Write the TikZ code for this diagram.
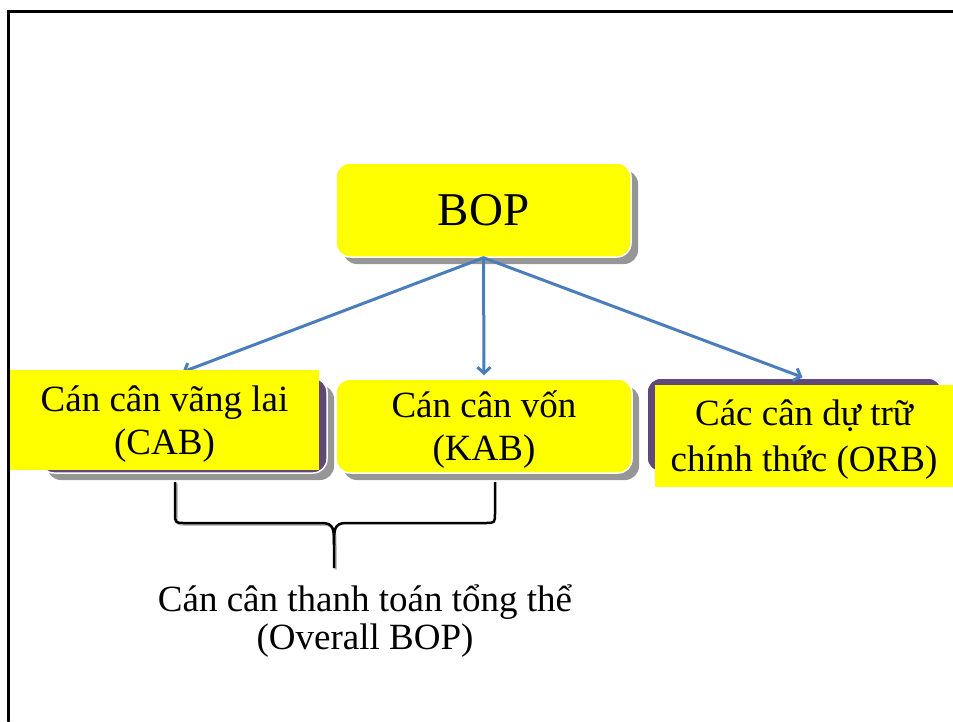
\documentclass[tikz,border=0pt]{standalone}
\usepackage{fontspec}
\setmainfont{Liberation Serif}
\usetikzlibrary{arrows.meta,shadows}
\definecolor{boxyellow}{HTML}{FFFF00}
\definecolor{boxpurple}{HTML}{5F497A}
\definecolor{shadowgray}{HTML}{969696}
\definecolor{linkblue}{HTML}{4A7EBB}
\tikzset{
  every picture/.style={line join=round, line cap=round, >=Stealth},
  card/.style={rounded corners=14pt, draw=white, line width=1.5pt,
    drop shadow={shadow xshift=7pt, shadow yshift=-7pt, fill=shadowgray, opacity=1}},
  flatcard/.style={rounded corners=14pt, draw=white, line width=1.5pt},
  flatbox/.style={fill=boxyellow, inner sep=0pt},
  boxtext/.style={font=\fontsize{37}{43}\selectfont, align=center, text depth=0pt},
  link/.style={linkblue, line width=3pt, -{Straight Barb[length=6pt,width=13pt]}},
  bracket/.style={line width=2.5pt, line cap=butt},
}

\begin{document}
\begin{tikzpicture}[x=1pt,y=-1pt]
\useasboundingbox (0,0) rectangle (953,721);
% frame
\draw[line width=3pt, line join=miter] (8.7,721) -- (8.7,11.7) -- (953,11.7);
% boxes
\node[card, fill=boxyellow, minimum width=295pt, minimum height=94pt, font=\fontsize{47}{54}\selectfont] (bop) at (483.5,210) {BOP};
\node[card, fill=boxpurple, minimum width=287pt, minimum height=95pt] (cabback) at (183.5,425.5) {};
\node[card, fill=boxyellow, boxtext, minimum width=296pt, minimum height=94pt] (kab) at (484,426) {Cán cân vốn\\(KAB)};
\node[flatcard, fill=boxpurple, minimum width=295pt, minimum height=94pt] (orbback) at (794.5,425) {};
% links
\coordinate (cabtip) at (182.5,372);
\draw[link] (bop.south) -- (cabtip);
\draw[link] (bop.south) -- ([yshift=3pt]kab.north);
\draw[link] (bop.south) -- ([xshift=8pt]orbback.north);
\node[flatbox, boxtext, minimum width=309pt, minimum height=100pt] (cab) at (164.5,420) {Cán cân vãng lai\\(CAB)};
\node[flatbox, boxtext, font=\fontsize{37}{46}\selectfont, minimum width=298pt, minimum height=102pt] (orb) at (804,436) {Các cân dự trữ\\chính thức (ORB)};
% brace under CAB and KAB
\draw[bracket, shadowgray!60, xshift=1.5pt, yshift=-1.5pt] (175,482) -- (175,513) .. controls (175,523) .. (185,523) -- (322,523) .. controls (334,523) and (334,530) .. (334,545) -- (334,568);
\draw[bracket] (175,482) -- (175,513) .. controls (175,523) .. (185,523) -- (322,523) .. controls (334,523) and (334,530) .. (334,545) -- (334,568);
\draw[bracket] (495,482) -- (495,513) .. controls (495,523) .. (485,523) -- (346,523) .. controls (334,523) and (334,530) .. (334,545);
\node[boxtext, font=\fontsize{37}{38}\selectfont] (overall) at (365,617) {Cán cân thanh toán tổng thể\\(Overall BOP)};
\end{tikzpicture}
\end{document}
